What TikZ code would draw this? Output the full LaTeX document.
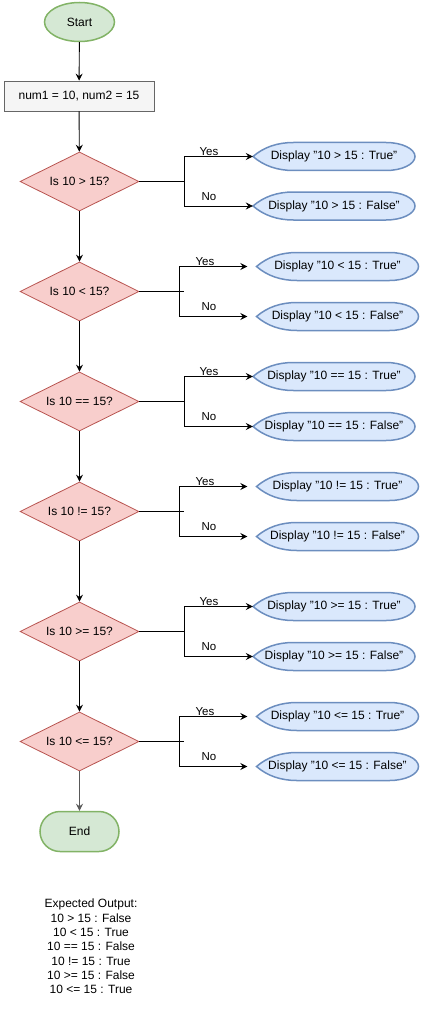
\documentclass[tikz,border=0pt]{standalone}
\usepackage{fontspec}
\setmainfont{Liberation Sans}
\usetikzlibrary{shapes.geometric,arrows.meta}
\definecolor{gfill}{HTML}{D5E8D4}
\definecolor{gline}{HTML}{82B366}
\definecolor{rfill}{HTML}{F5F5F5}
\definecolor{rline}{HTML}{666666}
\definecolor{dfill}{HTML}{F8CECC}
\definecolor{dline}{HTML}{B85450}
\definecolor{bfill}{HTML}{DAE8FC}
\definecolor{bline}{HTML}{6C8EBF}
\tikzset{
  every node/.style={font=\fontsize{12}{14}\selectfont},
  startst/.style={ellipse, draw=gline, fill=gfill, line width=1.5pt, minimum width=70pt, minimum height=39pt, inner sep=0pt},
  endst/.style={rectangle, rounded corners=20pt, draw=gline, fill=gfill, line width=1.5pt, minimum width=79pt, minimum height=40pt, inner sep=0pt},
  procst/.style={rectangle, draw=rline, fill=rfill, line width=0.8pt, minimum width=150pt, minimum height=30pt, inner sep=0pt},
  decst/.style={diamond, aspect=2, draw=dline, fill=dfill, line width=0.8pt, minimum width=119pt, minimum height=59pt, inner sep=0pt},
  dispshape/.style={draw=bline, fill=bfill, line width=1.5pt},
  disptext/.style={rectangle, draw=none, minimum width=162pt, minimum height=28pt, inner sep=0pt},
  arr/.style={draw=black, line width=0.9pt, -{Stealth[length=7pt,width=7pt,inset=2.5pt]}},
  plain/.style={draw=black, line width=0.9pt},
  lbl/.style={inner sep=0pt, font=\fontsize{11.5}{13}\selectfont},
}
\newcommand\dispbox[3]{%
  \draw[dispshape, shift={#2}] (-81,0) .. controls (-70.2,9.33) and (-56.7,14) .. (-40.5,14)
    -- (52,14) .. controls (68,14) and (81,7.73) .. (81,0)
    .. controls (81,-7.73) and (68,-14) .. (52,-14) -- (-40.5,-14)
    .. controls (-56.7,-14) and (-70.2,-9.33) .. (-81,0) -- cycle;
  \node[disptext] (#1) at #2 {#3};}
\begin{document}
\begin{tikzpicture}[x=1pt,y=-1pt]
\useasboundingbox (0,0) rectangle (420,1011);
\node[startst] (start) at (79.5,22) {Start};
\node[procst] (init) at (79,96) {num1 = 10, num2 = 15};
\node[decst] (d1) at (79.5,181.5) {Is 10 > 15?};
\node[decst] (d2) at (79.5,291.5) {Is 10 < 15?};
\node[decst] (d3) at (79.5,401.5) {Is 10 == 15?};
\node[decst] (d4) at (79.5,511.5) {Is 10 != 15?};
\node[decst] (d5) at (79.5,631.5) {Is 10 >= 15?};
\node[decst] (d6) at (79.5,741.5) {Is 10 <= 15?};
\node[endst] (end) at (79.5,831.5) {End};

% displays: pattern A (d1,d3,d5) and pattern B (d2,d4,d6)
\dispbox{t1}{(334,156.5)}{Display "10 > 15 : True"}
\dispbox{f1}{(334,206)}{Display "10 > 15 : False"}
\dispbox{t2}{(337.5,266.5)}{Display "10 < 15 : True"}
\dispbox{f2}{(337.5,316.5)}{Display "10 < 15 : False"}
\dispbox{t3}{(334,376.5)}{Display "10 == 15 : True"}
\dispbox{f3}{(334,426.5)}{Display "10 == 15 : False"}
\dispbox{t4}{(337.5,486.5)}{Display "10 != 15 : True"}
\dispbox{f4}{(337.5,536.5)}{Display "10 != 15 : False"}
\dispbox{t5}{(334,606.5)}{Display "10 >= 15 : True"}
\dispbox{f5}{(334,656.5)}{Display "10 >= 15 : False"}
\dispbox{t6}{(337.5,716.5)}{Display "10 <= 15 : True"}
\dispbox{f6}{(337.5,766.5)}{Display "10 <= 15 : False"}

% main flow
\draw[arr] (start) -- (init);
\draw[arr] (init) -- (d1);
\draw[arr] (d1) -- (d2);
\draw[arr] (d2) -- (d3);
\draw[arr] (d3) -- (d4);
\draw[arr] (d4) -- (d5);
\draw[arr] (d5) -- (d6);
\draw[arr, draw=black!65] (d6) -- (end);

% pattern A branches
\foreach \i/\y in {1/181.5,3/401.5,5/631.5}{
  \coordinate (b\i) at (184,\y);
  \draw[arr] (d\i.east) -- (b\i) |- (t\i.west);
  \draw[arr] (d\i.east) -- (b\i) |- (f\i.west);
}
% pattern B branches
\foreach \i/\y in {2/291.5,4/511.5,6/741.5}{
  \coordinate (b\i) at (179,\y);
  \coordinate (e\i) at (184,\y);
  \draw[plain] (d\i.east) -- (e\i);
  \draw[arr, shorten >=9pt] (d\i.east) -- (b\i) |- (t\i.west);
  \draw[arr, shorten >=9pt] (d\i.east) -- (b\i) |- (f\i.west);
}

% labels
\node[lbl] (y1) at (209,152) {Yes};
\node[lbl] (n1) at (209,197) {No};
\node[lbl] (y2) at (205,262) {Yes};
\node[lbl] (n2) at (209,307) {No};
\node[lbl] (y3) at (209,372) {Yes};
\node[lbl] (n3) at (209,417) {No};
\node[lbl] (y4) at (205,482) {Yes};
\node[lbl] (n4) at (209,527) {No};
\node[lbl] (y5) at (209,602) {Yes};
\node[lbl] (n5) at (209,647) {No};
\node[lbl] (y6) at (205,712) {Yes};
\node[lbl] (n6) at (209,757) {No};

\node[align=center, inner sep=0pt, font=\fontsize{12}{14.3}\selectfont] (out) at (91,946.5)
 {Expected Output:\\10 > 15 : False\\10 < 15 : True\\10 == 15 : False\\10 != 15 : True\\10 >= 15 : False\\10 <= 15 : True};
\end{tikzpicture}
\end{document}
